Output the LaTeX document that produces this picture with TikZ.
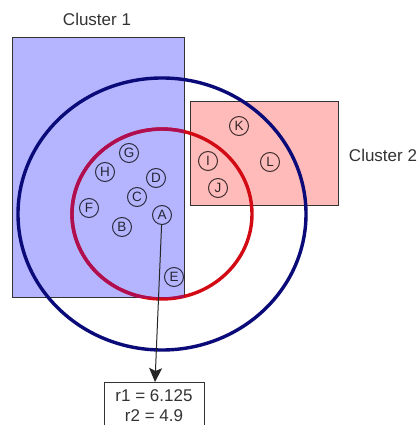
\documentclass[tikz,border=0pt]{standalone}
\usepackage{fontspec}
\setmainfont{Liberation Sans}
\usetikzlibrary{arrows.meta}
\definecolor{cafill}{RGB}{180,180,255}
\definecolor{cbfill}{RGB}{255,186,186}
\definecolor{navyring}{RGB}{10,10,120}
\definecolor{redring}{RGB}{210,10,20}
\definecolor{redin}{RGB}{175,15,80}
\definecolor{rectline}{RGB}{50,50,50}
\begin{document}
\begin{tikzpicture}[x=1pt,y=-1pt,
  clusterbox/.style={draw=rectline,line width=1pt},
  clusterlabel/.style={font=\fontsize{17}{20}\selectfont,text=black!80},
  outerring/.style={draw=navyring,line width=3.4pt},
  innerring/.style={draw=redring,line width=3.4pt},
  pt/.style={circle,draw=black,draw opacity=0.75,text opacity=0.8,line width=1pt,minimum size=19pt,inner sep=0pt,font=\fontsize{13.5}{13.5}\selectfont},
  resbox/.style={draw=black!80,line width=1pt,fill=white,minimum width=100pt,minimum height=47pt,align=center,font=\fontsize{17}{20}\selectfont,text=black!80,anchor=north,inner sep=0pt},
  link/.style={draw=black!85,line width=1pt,-{Stealth[length=14pt,width=13pt,inset=3pt]}}]
\useasboundingbox (0,0) rectangle (419,425);
\clip (0,0) rectangle (419,425);
\fill[white] (0,0) rectangle (419,425);
% clusters
\draw[clusterbox,fill=cafill] (12,38) rectangle (184,297);
\draw[clusterbox,fill=cbfill] (190,102) rectangle (338,205);
\node[clusterlabel] (lab1) at (97,19) {Cluster 1};
\node[clusterlabel] (lab2) at (383,155) {Cluster 2};
% rings
\coordinate (ctr) at (162,214);
\draw[outerring] (ctr) ellipse [x radius=144, y radius=136];
\draw[innerring] (ctr) ellipse [x radius=90, y radius=85];
\begin{scope}
  \clip (12,38) rectangle (184,297);
  \draw[innerring,draw=redin] (ctr) ellipse [x radius=90, y radius=85];
\end{scope}
% points
\node[pt] (G) at (129,153) {G};
\node[pt] (H) at (105,172) {H};
\node[pt] (D) at (156,178) {D};
\node[pt] (C) at (137,197) {C};
\node[pt] (F) at (89,208) {F};
\node[pt] (A) at (162,215) {A};
\node[pt] (B) at (122,227) {B};
\node[pt] (E) at (174,277) {E};
\node[pt] (K) at (239,126) {K};
\node[pt] (I) at (208,161) {I};
\node[pt] (J) at (218,188) {J};
\node[pt] (L) at (270,162) {L};
% result
\node[resbox] (res) at (154,382) {r1 = 6.125\\r2 = 4.9};
\draw[link] (A) -- (res);
\end{tikzpicture}
\end{document}
